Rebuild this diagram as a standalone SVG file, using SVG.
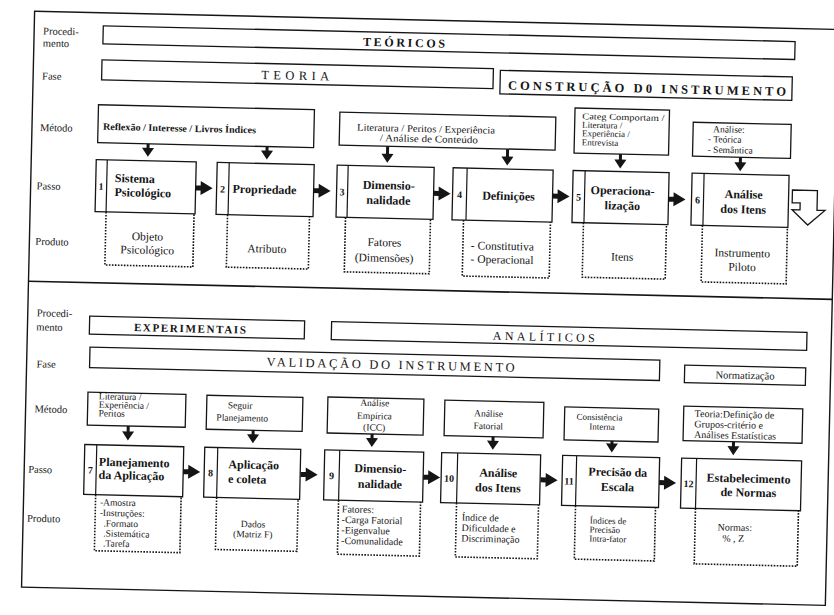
<svg xmlns="http://www.w3.org/2000/svg" width="834" height="615" viewBox="0 0 834 615">
<style>
text{font-family:"Liberation Serif","Times New Roman",serif;fill:#151515}
.lbl{font-size:10.5px}
.bar{fill:none;stroke:#151515;stroke-width:1.3}
.box{fill:#fff;stroke:#151515;stroke-width:1.3}
.div{stroke:#151515;stroke-width:1.2}
.dot{fill:none;stroke:#151515;stroke-width:1.6;stroke-dasharray:1.6 1.4}
.met{font-size:9.5px}
.st{font-size:12px;font-weight:bold}
.num{font-size:10px;font-weight:bold;text-anchor:middle}
.pr{font-size:11.5px}
.pr2{font-size:9.5px}
.c{text-anchor:middle}
.arr{fill:#151515}
</style>
<defs>
<path id="ha" d="M0,-2.5H5V-7L17,0L5,7V2.5H0Z"/>
</defs>
<g transform="rotate(1.3 417 307)">
<g id="frame">
<rect x="28" y="20" width="804" height="576" fill="none" stroke="#151515" stroke-width="1.4"/>
<line x1="28" y1="290" x2="832" y2="290" stroke="#151515" stroke-width="1.6"/>
</g>
<g id="row-labels">
<text class="lbl" x="37" y="43">Procedi-</text>
<text class="lbl" x="37" y="55">mento</text>
<text class="lbl" x="37" y="88">Fase</text>
<text class="lbl" x="36" y="139.5">Método</text>
<text class="lbl" x="34" y="198">Passo</text>
<text class="lbl" x="34" y="253.5">Produto</text>
<text class="lbl" x="37" y="325">Procedi-</text>
<text class="lbl" x="37" y="339">mento</text>
<text class="lbl" x="38" y="376">Fase</text>
<text class="lbl" x="37" y="421">Método</text>
<text class="lbl" x="32" y="481.5">Passo</text>
<text class="lbl" x="32" y="530.5">Produto</text>
</g>
<g id="proc-teoricos">
<rect class="bar" x="97" y="33" width="692" height="18"/>
<text class="c" x="398" y="47" font-size="12" font-weight="bold" textLength="82" lengthAdjust="spacing">TEÓRICOS</text>
</g>
<g id="fase-teoria">
<rect class="bar" x="96.5" y="67" width="391.5" height="20"/>
<text class="c" x="290" y="82.5" font-size="12.5" textLength="68" lengthAdjust="spacing">TEORIA</text>
</g>
<g id="fase-construcao">
<rect class="bar" x="495" y="68.5" width="292" height="23.5" stroke-width="1.8"/>
<text class="c" x="642" y="87.5" font-size="12.5" font-weight="bold" textLength="278" lengthAdjust="spacing">CONSTRUÇÃO D0 INSTRUMENTO</text>
</g>
<g id="metodo-1">
<rect class="box" x="94" y="112" width="216" height="38"/>
<text x="99" y="137" font-size="9.8" font-weight="bold" textLength="153" lengthAdjust="spacingAndGlyphs">Reflexão / Interesse / Livros Índices</text>
</g>
<g id="metodo-2">
<rect class="box" x="335.5" y="114" width="216" height="33"/>
<text x="353" y="132" font-size="10" textLength="138" lengthAdjust="spacingAndGlyphs">Literatura / Peritos / Experiência</text>
<text x="376" y="142" font-size="10" textLength="98" lengthAdjust="spacingAndGlyphs">/ Análise de Conteúdo</text>
</g>
<g id="metodo-3">
<rect class="box" x="570.5" y="104.5" width="94.5" height="45"/>
<text x="578" y="115.5" font-size="9" textLength="82" lengthAdjust="spacingAndGlyphs">Categ Comportam /</text>
<text x="578" y="124" font-size="9">Literatura /</text>
<text x="578" y="132.5" font-size="9">Experiência /</text>
<text x="578" y="141.5" font-size="9">Entrevista</text>
</g>
<g id="metodo-4">
<rect class="box" x="689" y="116" width="98" height="34"/>
<text x="709" y="125.5" font-size="9.5">Análise:</text>
<text x="704" y="135.5" font-size="9.5">- Teórica</text>
<text x="704" y="146" font-size="9.5">- Semântica</text>
</g>
<g id="passo-1">
<rect class="box" x="93" y="167" width="100" height="52"/>
<line class="div" x1="104" y1="167" x2="104" y2="219"/>
<text class="num" x="98.5" y="197">1</text>
<text class="st" x="112" y="189">Sistema</text>
<text class="st" x="112" y="203">Psicológico</text>
<path class="dot" d="M104,219V272H192V219"/>
<text class="pr c" x="146" y="246.5">Objeto</text>
<text class="pr c" x="146" y="260">Psicológico</text>
</g>
<g id="passo-2">
<rect class="box" x="214" y="167" width="97" height="52"/>
<line class="div" x1="226" y1="167" x2="226" y2="219"/>
<text class="num" x="220" y="197">2</text>
<text class="st" x="230" y="197">Propriedade</text>
<path class="dot" d="M225.5,219V271.5H307.5V219"/>
<text class="pr c" x="265.5" y="256">Atributo</text>
</g>
<g id="passo-3">
<rect class="box" x="334" y="167" width="97" height="52"/>
<line class="div" x1="345" y1="167" x2="345" y2="219"/>
<text class="num" x="339.5" y="197">3</text>
<text class="st c" x="386" y="190">Dimensio-</text>
<text class="st c" x="386" y="205">nalidade</text>
<path class="dot" d="M343.5,219V273.5H428.5V219"/>
<text class="pr c" x="383" y="247">Fatores</text>
<text class="pr c" x="383" y="262.5">(Dimensões)</text>
</g>
<g id="passo-4">
<rect class="box" x="450" y="167" width="100" height="52"/>
<line class="div" x1="464" y1="167" x2="464" y2="219"/>
<text class="num" x="457" y="197">4</text>
<text class="st c" x="506" y="198">Definições</text>
<path class="dot" d="M461.5,219V275H548.5V219"/>
<text class="pr" x="469.5" y="248">- Constitutiva</text>
<text class="pr" x="469.5" y="261.5">- Operacional</text>
</g>
<g id="passo-5">
<rect class="box" x="570" y="167" width="96" height="52"/>
<line class="div" x1="582" y1="167" x2="582" y2="219"/>
<text class="num" x="576" y="197">5</text>
<text class="st c" x="620" y="190">Operaciona-</text>
<text class="st c" x="620" y="205">lização</text>
<path class="dot" d="M581.5,219V273.5H664.5V219"/>
<text class="pr c" x="621" y="256">Itens</text>
</g>
<g id="passo-6">
<rect class="box" x="689" y="167" width="97" height="52"/>
<line class="div" x1="701" y1="167" x2="701" y2="219"/>
<text class="num" x="695" y="197">6</text>
<text class="st c" x="741" y="191">Análise</text>
<text class="st c" x="741" y="206">dos Itens</text>
<path class="dot" d="M700.5,219V275.5H785.5V219"/>
<text class="pr c" x="741" y="249.5">Instrumento</text>
<text class="pr c" x="741" y="263.5">Piloto</text>
</g>
<g id="proc-experimentais">
<rect class="bar" x="90" y="323.5" width="215" height="18"/>
<text class="c" x="190.5" y="337.5" font-size="11" font-weight="bold" textLength="112" lengthAdjust="spacing">EXPERIMENTAIS</text>
</g>
<g id="proc-analiticos">
<rect class="bar" x="332" y="323.5" width="475.5" height="18"/>
<text class="c" x="544.5" y="338" font-size="12" textLength="102" lengthAdjust="spacing">ANALÍTICOS</text>
</g>
<g id="fase-validacao">
<rect class="bar" x="91" y="354.5" width="570" height="20.5"/>
<text class="c" x="392" y="369.5" font-size="12.5" textLength="248" lengthAdjust="spacing">VALIDAÇÃO DO INSTRUMENTO</text>
</g>
<g id="fase-normatizacao">
<rect class="bar" x="686" y="359" width="121" height="17.5"/>
<text class="c" x="746.5" y="371.5" font-size="10.5">Normatização</text>
</g>
<g id="metodo-7">
<rect class="box" x="90" y="399.5" width="98" height="33"/>
<text x="101" y="406.5" font-size="9.5">Literatura /</text>
<text x="101" y="415" font-size="9.5">Experiência /</text>
<text x="101" y="423.5" font-size="9.5">Peritos</text>
</g>
<g id="metodo-8">
<rect class="box" x="209" y="400" width="96" height="34"/>
<text x="230" y="412.5" font-size="9.5">Seguir</text>
<text x="219" y="425" font-size="9.5">Planejamento</text>
</g>
<g id="metodo-9">
<rect class="box" x="330" y="399" width="96" height="36"/>
<text class="c" x="377" y="407" font-size="9.5">Análise</text>
<text class="c" x="377" y="420" font-size="9.5">Empírica</text>
<text class="c" x="377" y="431.5" font-size="9.5">(ICC)</text>
</g>
<g id="metodo-10">
<rect class="box" x="447" y="399.5" width="99" height="35.5"/>
<text class="c" x="491" y="415" font-size="9.5">Análise</text>
<text class="c" x="491" y="427.5" font-size="9.5">Fatorial</text>
</g>
<g id="metodo-11">
<rect class="box" x="567" y="403.5" width="94" height="33"/>
<text x="579" y="416" font-size="9">Consistência</text>
<text x="592" y="425.5" font-size="9">Interna</text>
</g>
<g id="metodo-12">
<rect class="box" x="686" y="400" width="119" height="34.5"/>
<text x="697" y="410.5" font-size="10">Teoria:Definição de</text>
<text x="697" y="421" font-size="10">Grupos-critério e</text>
<text x="697" y="431.5" font-size="10">Análises Estatísticas</text>
</g>
<g id="passo-7">
<rect class="box" x="88" y="452" width="99" height="50"/>
<line class="div" x1="100" y1="452" x2="100" y2="502"/>
<text class="num" x="94" y="481">7</text>
<text class="st" x="102.5" y="473">Planejamento</text>
<text class="st" x="102.5" y="486">da Aplicação</text>
<path class="dot" d="M100,502V558H185.5V502"/>
<text class="pr2" x="104.5" y="512.5">-Amostra</text>
<text class="pr2" x="104.5" y="523">-Instruções:</text>
<text class="pr2" x="108.5" y="533.5">.Formato</text>
<text class="pr2" x="108.5" y="543.5">.Sistemática</text>
<text class="pr2" x="108.5" y="553.5">.Tarefa</text>
</g>
<g id="passo-8">
<rect class="box" x="208" y="452" width="96" height="50"/>
<line class="div" x1="221" y1="452" x2="221" y2="502"/>
<text class="num" x="214.5" y="481">8</text>
<text class="st" x="232" y="472.5">Aplicação</text>
<text class="st" x="232" y="487">e coleta</text>
<path class="dot" d="M221,502V554H302.5V502"/>
<text class="pr2 c" x="258" y="531">Dados</text>
<text class="pr2 c" x="258" y="541">(Matriz F)</text>
</g>
<g id="passo-9">
<rect class="box" x="328" y="452" width="99" height="50"/>
<line class="div" x1="343" y1="452" x2="343" y2="502"/>
<text class="num" x="335.5" y="481">9</text>
<text class="st c" x="384" y="473.5">Dimensio-</text>
<text class="st c" x="384" y="489">nalidade</text>
<path class="dot" d="M343,502V556H425V502"/>
<text x="346.5" y="514" font-size="10">Fatores:</text>
<text x="346.5" y="524.5" font-size="10">-Carga Fatorial</text>
<text x="346.5" y="535" font-size="10">-Eigenvalue</text>
<text x="346.5" y="545.5" font-size="10">-Comunalidade</text>
</g>
<g id="passo-10">
<rect class="box" x="445" y="452" width="99" height="50"/>
<line class="div" x1="461" y1="452" x2="461" y2="502"/>
<text class="num" x="453" y="481">10</text>
<text class="st c" x="502" y="475">Análise</text>
<text class="st c" x="502" y="490">dos Itens</text>
<path class="dot" d="M461,502V556H543V502"/>
<text x="466.5" y="519.5" font-size="10">Índice de</text>
<text x="466.5" y="530" font-size="10">Dificuldade e</text>
<text x="466.5" y="540.5" font-size="10">Discriminação</text>
</g>
<g id="passo-11">
<rect class="box" x="566" y="452" width="97" height="50"/>
<line class="div" x1="580" y1="452" x2="580" y2="502"/>
<text class="num" x="573" y="481">11</text>
<text class="st c" x="621.5" y="471.5">Precisão da</text>
<text class="st c" x="621.5" y="486.5">Escala</text>
<path class="dot" d="M580,502V555.5H660V502"/>
<text x="594.5" y="519.5" font-size="9">Índices de</text>
<text x="594.5" y="528.5" font-size="9">Precisão</text>
<text x="594.5" y="537.5" font-size="9">Intra-fator</text>
</g>
<g id="passo-12">
<rect class="box" x="685" y="452" width="120" height="50"/>
<line class="div" x1="700" y1="452" x2="700" y2="502"/>
<text class="num" x="692.5" y="481">12</text>
<text class="st c" x="752.5" y="475">Estabelecimento</text>
<text class="st c" x="752.5" y="489">de Normas</text>
<path class="dot" d="M700,502V557.5H803V502"/>
<text x="722.5" y="523.5" font-size="10">Normas:</text>
<text x="727.5" y="534.5" font-size="10">% , Z</text>
</g>
<g id="connectors" class="arr">
<path d="M143,150H146V154H150.5L144.5,163L138.5,154H143Z"/>
<path d="M262,150H265V154H269.5L263.5,163L257.5,154H262Z"/>
<path d="M382.5,147H385.5V154.5H390L384,163.5L378,154.5H382.5Z"/>
<path d="M502.5,147H505.5V154.5H510L504,163.5L498,154.5H502.5Z"/>
<path d="M615.5,149.5H618.5V155H623L617,164L611,155H615.5Z"/>
<path d="M735.5,150H738.5V155H743L737,164L731,155H735.5Z"/>
<use href="#ha" x="193" y="193"/>
<use href="#ha" x="311" y="193"/>
<use href="#ha" x="431" y="193"/>
<use href="#ha" x="550" y="193"/>
<use href="#ha" x="666" y="193.5"/>
<path d="M789.7,181.5H814.7V201.2H822.7L805.7,216.2L789.7,201.2H797.7V194.3H789.7Z" fill="#fff" stroke="#151515" stroke-width="1.3"/>
<path d="M129.5,432.5H132.5V438H137L131,447L125,438H129.5Z"/>
<path d="M254.5,434H257.5V438H262L256,447L250,438H254.5Z"/>
<path d="M373.5,435H376.5V439H381L375,448L369,439H373.5Z"/>
<path d="M494.5,435H497.5V439H502L496,448L490,439H494.5Z"/>
<path d="M613.5,436.5H616.5V439H621L615,448L609,439H613.5Z"/>
<path d="M735,434.5H738V439H742.5L736.5,448L730.5,439H735Z"/>
<use href="#ha" x="187" y="477"/>
<use href="#ha" x="304.5" y="477"/>
<use href="#ha" x="427" y="477"/>
<use href="#ha" x="544.5" y="477"/>
<use href="#ha" x="663" y="477"/>
</g>
</g>
</svg>
